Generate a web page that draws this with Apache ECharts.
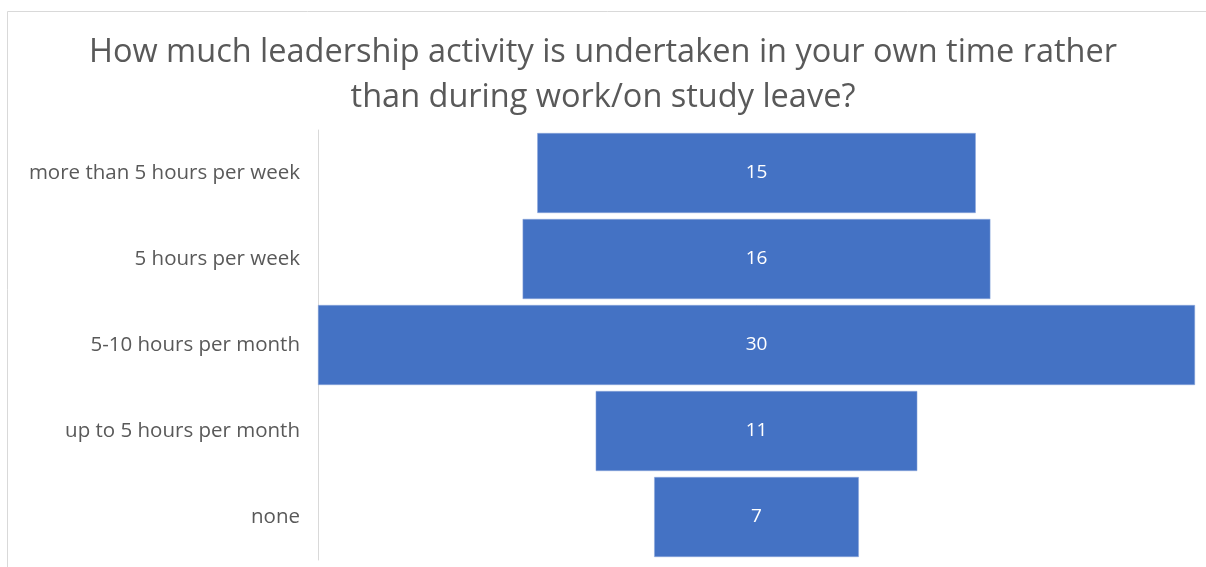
<!DOCTYPE html>
<html><head><meta charset="utf-8">
<script src="https://cdn.jsdelivr.net/npm/echarts@6/dist/echarts.min.js"></script>
<style>html,body{margin:0;padding:0;background:#fff;}#c{width:1206px;height:567px;}</style>
</head><body><div id="c"></div>
<script>
const categories = ["more than 5 hours per week","5 hours per week","5-10 hours per month","up to 5 hours per month","none"];
const values = [15,16,30,11,7];
const titleText = "How much leadership activity is undertaken in your own time rather\nthan during work/on study leave?";

const maxV = Math.max(...values);
const offsets = values.map(v => (maxV - v) / 2);
const font = "'Open Sans', sans-serif";
const chart = echarts.init(document.getElementById('c'), null, {renderer:'canvas'});
chart.setOption({
  animation:false,
  backgroundColor:'#fff',
  title:{text:titleText,left:'center',top:25,textStyle:{fontFamily:font,fontWeight:'normal',fontSize:32.5,color:'#595959',lineHeight:45}},
  graphic:[{type:'rect',shape:{x:7.5,y:11.5,width:1300,height:700},style:{fill:'none',stroke:'#d9d9d9',lineWidth:1},silent:true}],
  grid:{left:318,right:11,top:130,bottom:7,containLabel:false},
  xAxis:{type:'value',min:0,max:maxV,show:false},
  yAxis:{type:'category',data:categories,inverse:true,
    axisLine:{show:true,lineStyle:{color:'#d9d9d9',width:1}},
    axisTick:{show:false},
    axisLabel:{margin:18,fontFamily:font,fontSize:20.5,color:'#595959',padding:[6,0,0,0]}},
  series:[
    {type:'bar',stack:'f',data:offsets,itemStyle:{color:'transparent'},barWidth:80,silent:true},
    {type:'bar',stack:'f',data:values,barWidth:80,
     itemStyle:{color:'#4472C4',borderColor:'#8fa9dc',borderWidth:0.5},
     label:{show:true,position:'inside',color:'#fff',fontFamily:font,fontSize:19,padding:[6,0,0,0]}}
  ]
});
</script></body></html>
